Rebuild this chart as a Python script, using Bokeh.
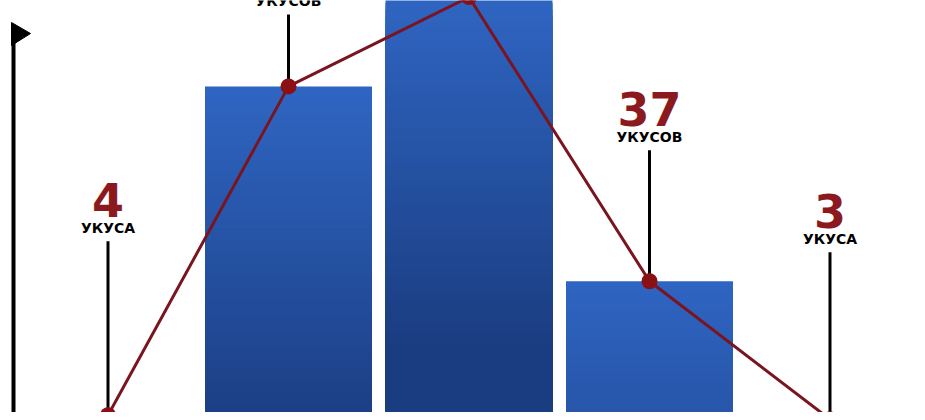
from bokeh.plotting import figure
from bokeh.models import Range1d, ColumnDataSource
from bokeh.core.properties import value
from bokeh.embed import file_html
from bokeh.resources import INLINE

# ---- data ----
categories = ["1", "2", "3", "4", "5"]
bites = [4, 85, 107, 37, 3]
numbers = ["4", "85", "107", "37", "3"]
words = ["УКУСА", "УКУСОВ", "УКУСОВ", "УКУСОВ", "УКУСА"]

# ---- style ----
W, H = 917, 412
PX_PER_UNIT = 4.06          # vertical scale (pixels per bite)
BASE_PX = 431               # baseline position below the plot top (px)
SLOT_PX = 180.5             # horizontal pixel width of a category slot
FIRST_PX = 107.5            # center of first bar from plot left (px)
label_len_px = [174, 72, 72, 131, 167]   # length of the label stems
BAR_W = 167 / SLOT_PX
NUM_COLOR = "#8b1a1f"
LINE_COLOR = "#7a1520"
DOT_COLOR = "#8b1016"
NUM_SIZE, WORD_SIZE = 46, 14

y_lo = (BASE_PX - H) / PX_PER_UNIT
y_hi = BASE_PX / PX_PER_UNIT
x_lo = -FIRST_PX / SLOT_PX
x_hi = (W - FIRST_PX) / SLOT_PX

p = figure(width=W, height=H, output_backend="svg", toolbar_location=None,
           x_range=Range1d(x_lo, x_hi), y_range=Range1d(y_lo, y_hi),
           min_border=0, background_fill_color="white", border_fill_color="white")
p.axis.visible = False
p.grid.visible = False
p.outline_line_color = None

xs = list(range(len(categories)))

# gradient bars: stacked layers from the baseline, each shorter & darker
top_c = (47, 101, 194)
bot_c = (26, 60, 128)
N = 70
qs = dict(left=[], right=[], bottom=[], top=[], color=[])
for i, v in enumerate(bites):
    for k in range(N):
        t0 = v - v * k / N
        dist_px = (v - t0) * PX_PER_UNIT
        f = min(dist_px / 350.0, 1.0)
        c = tuple(int(round(a + (b - a) * f)) for a, b in zip(top_c, bot_c))
        qs["left"].append(i - BAR_W / 2)
        qs["right"].append(i + BAR_W / 2)
        qs["bottom"].append(-5)
        qs["top"].append(t0)
        qs["color"].append("#%02x%02x%02x" % c)
p.quad(source=ColumnDataSource(qs), left="left", right="right", bottom="bottom",
       top="top", fill_color="color", line_color=None)

# label stems
stem_top = [v + L / PX_PER_UNIT for v, L in zip(bites, label_len_px)]
p.segment(x0=xs, y0=bites, x1=xs, y1=stem_top, line_color="black", line_width=3)

# text anchors (baseline correction for the svg renderer)
word_y = [s + (5 + 0.57 * WORD_SIZE) / PX_PER_UNIT for s in stem_top]
num_y = [s + (16 + 0.55 * NUM_SIZE) / PX_PER_UNIT for s in stem_top]
p.text(x=xs, y=word_y, text=words, text_align="center", text_baseline="alphabetic",
       text_font=value("DejaVu Sans"), text_font_style="bold",
       text_font_size=f"{WORD_SIZE}px", text_color="black")
p.text(x=xs, y=num_y, text=numbers, text_align="center", text_baseline="alphabetic",
       text_font=value("DejaVu Sans"), text_font_style="bold",
       text_font_size=f"{NUM_SIZE}px", text_color=NUM_COLOR)

# line with markers
p.line(xs, bites, line_color=LINE_COLOR, line_width=3)
p.scatter(xs, bites, size=16, fill_color=DOT_COLOR, line_color=None)

# flag-topped axis on the left
def px2x(px):
    return (px - FIRST_PX) / SLOT_PX
def py2y(py):
    return (BASE_PX - py) / PX_PER_UNIT

p.segment(x0=[px2x(13)], y0=[py2y(24)], x1=[px2x(13)], y1=[py2y(H + 5)],
          line_color="black", line_width=4)
p.patch([px2x(11), px2x(30), px2x(11)], [py2y(22), py2y(33), py2y(45)],
        fill_color="black", line_color="black")

open("out.html", "w").write(file_html(p, INLINE))
